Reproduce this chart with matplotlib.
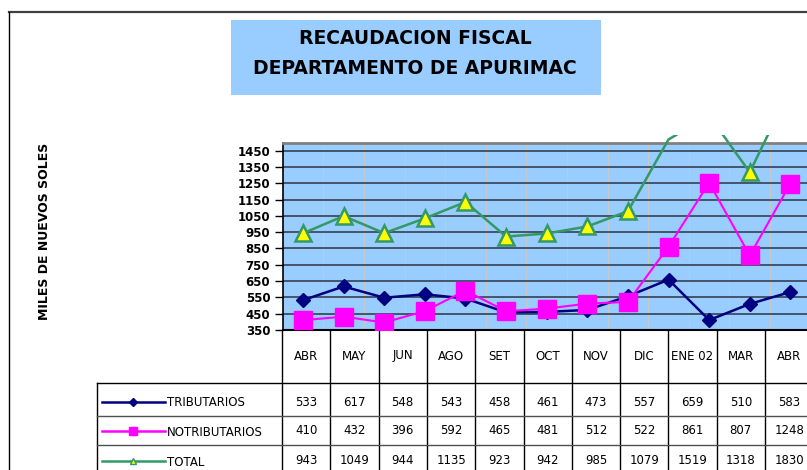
import numpy as np
import matplotlib
matplotlib.use("Agg")
import matplotlib.pyplot as plt
from matplotlib.patches import Rectangle

# series as drawn in the chart (the lines carry 13 months, JUL and FEB included)
plot_months = ["ABR", "MAY", "JUN", "JUL", "AGO", "SET", "OCT", "NOV", "DIC", "ENE 02", "FEB", "MAR", "ABR"]
trib_plot = [533, 617, 548, 569, 543, 458, 461, 473, 557, 659, 411, 510, 583]
notrib_plot = [410, 432, 396, 466, 592, 465, 481, 512, 522, 861, 1253, 807, 1248]
total_plot = [943, 1049, 944, 1035, 1135, 923, 942, 985, 1079, 1519, 1664, 1318, 1830]

# data table under the chart
table_months = ["ABR", "MAY", "JUN", "AGO", "SET", "OCT", "NOV", "DIC", "ENE 02", "MAR", "ABR"]
trib = [533, 617, 548, 543, 458, 461, 473, 557, 659, 510, 583]
notrib = [410, 432, 396, 592, 465, 481, 512, 522, 861, 807, 1248]
total = [943, 1049, 944, 1135, 923, 942, 985, 1079, 1519, 1318, 1830]

yticks = list(range(350, 1451, 100))

NAVY = "#000080"
MAGENTA = "#ff00ff"
GREEN = "#339966"
YELLOW = "#ffff00"
SKY = "#99ccff"

W, H = 807, 470
fig = plt.figure(figsize=(W / 100, H / 100), dpi=100)

# overlay in pixel units for frame, title, axis label and the data table
ov = fig.add_axes([0, 0, 1, 1], zorder=0)
ov.set_xlim(0, W)
ov.set_ylim(H, 0)
ov.axis("off")

ov.plot([9, W], [12, 12], color="#404040", lw=1.6)
ov.plot([9, 9], [12, H], color="black", lw=1)

ov.add_patch(Rectangle((231, 20), 370, 75, fc=SKY, ec="none"))
ov.text(415, 38, "RECAUDACION FISCAL", ha="center", va="center",
        fontsize=13.5, fontweight="bold")
ov.text(415, 68, "DEPARTAMENTO DE APURIMAC", ha="center", va="center",
        fontsize=13.5, fontweight="bold")

ov.text(45, 231, "MILES DE NUEVOS SOLES", rotation=90, ha="center", va="center",
        fontsize=9, fontweight="bold")

# main plot area
ax = fig.add_axes([282.7 / W, (H - 330) / H, 528 / W, 187 / H], zorder=1)
ax.set_facecolor(SKY)
x = np.arange(len(plot_months))
ax.set_xlim(-0.5, len(plot_months) - 0.5)
ymax = 1497
ax.set_ylim(350, ymax)
ax.set_yticks(yticks)
ax.set_xticks([])
ax.set_xticks(x[:-1] + 0.5, minor=True)
ax.tick_params(axis="x", which="minor", length=0)
ax.grid(axis="x", which="minor", color="#c8c8c8", lw=0.7)
ax.grid(axis="y", which="major", color="#2b3644", lw=1.1)
ax.set_axisbelow(True)
ax.tick_params(axis="y", direction="out", length=6, width=1, pad=3, labelsize=8.5)
for lab in ax.get_yticklabels():
    lab.set_fontweight("bold")
ax.spines["right"].set_visible(False)
ax.spines["top"].set_color("#808080")
ax.spines["top"].set_linewidth(2)
ax.spines["left"].set_linewidth(1.2)
ax.spines["bottom"].set_linewidth(1.5)

# lines may run a little above the plot area, as in the original
clip = Rectangle((0, 0), 1, 1.043, transform=ax.transAxes)

series = [
    (trib_plot, NAVY, dict(marker="D", ms=7.5, mfc=NAVY, mec=NAVY), 1.8),
    (notrib_plot, MAGENTA, dict(marker="s", ms=12.5, mfc=MAGENTA, mec=MAGENTA), 1.5),
    (total_plot, GREEN, dict(marker="^", ms=12, mfc=YELLOW, mec=GREEN, mew=1.8), 1.8),
]
z = 3
for vals, col, mk, lw in series:
    ln, = ax.plot(x, vals, color=col, lw=lw, zorder=z)
    ln.set_clip_path(clip)
    ax.plot(x, np.ma.masked_greater(vals, ymax), ls="none", zorder=z + 1, **mk)
    z += 2

# data table
col_x0, col_w = 282, 48.3
top, head_b, r1, r2, bot = 330, 383, 416, 445, H
n = len(table_months)
for k in range(n + 1):
    xx = col_x0 + col_w * k
    ov.plot([xx, xx], [top, bot], color="black", lw=1)
ov.plot([97, 97], [head_b, bot], color="black", lw=1)
ov.plot([97, W], [head_b, head_b], color="black", lw=1)
ov.plot([97, W], [r1, r1], color="#505050", lw=1)
ov.plot([97, W], [r2, r2], color="#505050", lw=1)

for k, m in enumerate(table_months):
    ov.text(col_x0 + col_w * (k + 0.5), 356, m, ha="center", va="center", fontsize=8.5)

rows = [
    ("TRIBUTARIOS", trib, NAVY, dict(marker="D", ms=4.5, mfc=NAVY, mec=NAVY), 402),
    ("NOTRIBUTARIOS", notrib, MAGENTA, dict(marker="s", ms=5.5, mfc=MAGENTA, mec=MAGENTA), 431),
    ("TOTAL", total, GREEN, dict(marker="^", ms=5, mfc=YELLOW, mec=GREEN, mew=1), 461),
]
for name, vals, col, mk, yy in rows:
    ov.plot([102, 165], [yy, yy], color=col, lw=1.8)
    ov.plot([133], [yy], **mk)
    ov.text(167, yy + 1, name, ha="left", va="center", fontsize=8.5)
    for k, v in enumerate(vals):
        ov.text(col_x0 + col_w * (k + 0.5), yy, str(v), ha="center", va="center", fontsize=8.5)

fig.savefig("out.png", dpi=100)
